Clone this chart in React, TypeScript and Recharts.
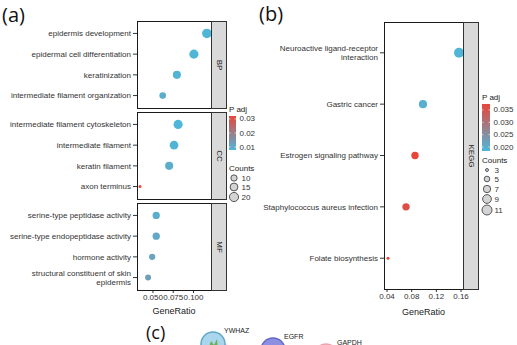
import React from "react";
import { ScatterChart, Scatter, XAxis, YAxis, ReferenceLine } from "recharts";

// ---- (a) GO enrichment, three facets ----
const bpTerms = [
  "epidermis development",
  "epidermal cell differentiation",
  "keratinization",
  "intermediate filament organization",
];
const bpRatio = [0.1165, 0.1005, 0.0795, 0.062];
const bpCount = [22, 20, 16, 11];
const bpPadj = [0.0079, 0.0079, 0.0085, 0.0098];

const ccTerms = [
  "intermediate filament cytoskeleton",
  "intermediate filament",
  "keratin filament",
  "axon terminus",
];
const ccRatio = [0.081, 0.076, 0.07, 0.034];
const ccCount = [20, 18, 16, 3];
const ccPadj = [0.0079, 0.0085, 0.0098, 0.0321];

const mfTerms = [
  "serine-type peptidase activity",
  "serine-type endopeptidase activity",
  "hormone activity",
  "structural constituent of skin epidermis",
];
const mfRatio = [0.054, 0.054, 0.049, 0.044];
const mfCount = [13, 13, 10, 9];
const mfPadj = [0.0098, 0.011, 0.012, 0.013];

const goTicks = [0.05, 0.075, 0.1];
const goPadjTicks = [0.03, 0.02, 0.01];
const goCountKeys = [10, 15, 20];

// ---- (b) KEGG enrichment ----
const keggTerms = [
  "Neuroactive ligand-receptor interaction",
  "Gastric cancer",
  "Estrogen signaling pathway",
  "Staphylococcus aureus infection",
  "Folate biosynthesis",
];
const keggRatio = [0.1567, 0.0983, 0.0854, 0.0708, 0.0416];
const keggCount = [11, 8, 7, 7, 3];
const keggPadj = [0.0184, 0.0195, 0.0374, 0.036, 0.0374];

const keggTicks = [0.04, 0.08, 0.12, 0.16];
const keggPadjTicks = [0.035, 0.03, 0.025, 0.02];
const keggCountKeys = [3, 5, 7, 9, 11];

// ---- (c) network fragment (layout units) ----
const nodeNames = ["YWHAZ", "EGFR", "GAPDH"];
const nodeX = [33, 93, 146];
const nodeY = [24, 30, 36];

const FONT = '"Liberation Sans", Arial, Helvetica, sans-serif';
const LOW = [79, 182, 216];
const HIGH = [232, 70, 58];

const goP = [Math.min(...bpPadj, ...ccPadj, ...mfPadj), Math.max(...bpPadj, ...ccPadj, ...mfPadj)];
const goC = [Math.min(...bpCount, ...ccCount, ...mfCount), Math.max(...bpCount, ...ccCount, ...mfCount)];
const keggP = [Math.min(...keggPadj), Math.max(...keggPadj)];
const keggC = [Math.min(...keggCount), Math.max(...keggCount)];

function padjColor(p: number, [lo, hi]: number[]) {
  const t = Math.max(0, Math.min(1, (p - lo) / (hi - lo)));
  const c = LOW.map((l, i) => Math.round(l + t * (HIGH[i] - l)));
  return `rgb(${c[0]},${c[1]},${c[2]})`;
}

function radius(c: number, [lo, hi]: number[], rmin: number, rmax: number) {
  const t = (c - lo) / (hi - lo);
  return Math.sqrt(rmin * rmin + t * (rmax * rmax - rmin * rmin));
}

function wrap(text: string, max = 34) {
  const lines: string[] = [];
  let cur = "";
  for (const w of text.split(" ")) {
    if (cur && (cur + " " + w).length > max) {
      lines.push(cur);
      cur = w;
    } else cur = cur ? cur + " " + w : w;
  }
  lines.push(cur);
  return lines;
}

function TermTick(props: any) {
  const { x, y, payload, labels } = props;
  const lines = wrap(labels[payload.value - 1] ?? "");
  const lh = 9;
  return (
    <text x={x} y={y} textAnchor="end" fontSize={8} fill="#333" fontFamily={FONT}>
      {lines.map((l, i) => (
        <tspan key={i} x={x} dy={i === 0 ? 2.8 - ((lines.length - 1) * lh) / 2 : lh}>
          {l}
        </tspan>
      ))}
    </text>
  );
}

interface DotPlotProps {
  terms: string[];
  ratio: number[];
  count: number[];
  padj: number[];
  pRange: number[];
  cRange: number[];
  rmax: number;
  domain: number[];
  ticks: number[];
  digits: number;
  left: number;
  top: number;
  width: number;
  plotHeight: number;
  labelWidth: number;
  showX: boolean;
  axisHeight: number;
  labelOffset: number;
}

function DotPlot(p: DotPlotProps) {
  const rows = p.terms.map((t, i) => ({
    term: t,
    y: i + 1,
    ratio: p.ratio[i],
    count: p.count[i],
    padj: p.padj[i],
  }));
  const n = p.terms.length;
  return (
    <div style={{ position: "absolute", left: p.left, top: p.top }}>
      <ScatterChart
        width={p.width + 12}
        height={p.plotHeight + (p.showX ? p.axisHeight : 0)}
        margin={{ top: 0, right: 13, bottom: 0, left: 0 }}
      >
        <XAxis
          type="number"
          dataKey="ratio"
          domain={p.domain}
          allowDataOverflow
          hide={!p.showX}
          height={p.axisHeight}
          ticks={p.ticks}
          interval={0}
          tickFormatter={(v: number) => v.toFixed(p.digits)}
          tick={{ fontSize: 8, fill: "#333", fontFamily: FONT }}
          tickSize={3}
          tickMargin={1}
          axisLine={false}
          tickLine={{ stroke: "#333" }}
          label={{ value: "GeneRatio", position: "insideBottom", offset: p.labelOffset, fontSize: 9, fill: "#1a1a1a", fontFamily: FONT }}
        />
        <YAxis
          type="number"
          dataKey="y"
          domain={[0.4, n + 0.6]}
          allowDataOverflow
          reversed
          ticks={rows.map((r) => r.y)}
          interval={0}
          width={p.labelWidth}
          tickSize={4}
          tickMargin={2}
          axisLine={false}
          tickLine={{ stroke: "#333" }}
          tick={<TermTick labels={p.terms} />}
        />
        <Scatter
          data={rows}
          isAnimationActive={false}
          shape={(s: any) => (
            <circle
              cx={s.cx}
              cy={s.cy}
              r={radius(s.payload.count, p.cRange, 1.5, p.rmax)}
              fill={padjColor(s.payload.padj, p.pRange)}
            />
          )}
        />
      </ScatterChart>
    </div>
  );
}

function Strip({ x, y, h, text }: { x: number; y: number; h: number; text: string }) {
  return (
    <g>
      <rect x={x} y={y} width={15} height={h} fill="#d9d9d9" stroke="#333" strokeWidth={1} />
      <text
        x={x + 7.5}
        y={y + h / 2}
        transform={`rotate(90 ${x + 7.5} ${y + h / 2})`}
        textAnchor="middle"
        dominantBaseline="central"
        fontSize={8}
        fill="#1a1a1a"
        fontFamily={FONT}
      >
        {text}
      </text>
    </g>
  );
}

function Legend(props: {
  x: number;
  y: number;
  barW: number;
  barH: number;
  id: string;
  pRange: number[];
  pTicks: number[];
  digits: number;
  counts: number[];
  cRange: number[];
  rmax: number;
  countTop: number;
  countGap: number[];
}) {
  const { x, y, barW, barH, pRange } = props;
  const py = (v: number) => y + barH - ((v - pRange[0]) / (pRange[1] - pRange[0])) * barH;
  let cy = props.countTop + 10;
  return (
    <g fontFamily={FONT} fontSize={8} fill="#1a1a1a">
      <defs>
        <linearGradient id={props.id} x1="0" y1="0" x2="0" y2="1">
          <stop offset="0" stopColor={padjColor(pRange[1], pRange)} />
          <stop offset="1" stopColor={padjColor(pRange[0], pRange)} />
        </linearGradient>
      </defs>
      <text x={x} y={y - 4}>P adj</text>
      <rect x={x} y={y} width={barW} height={barH} fill={`url(#${props.id})`} />
      {props.pTicks.map((t) => (
        <g key={t}>
          <line x1={x} x2={x + 1.5} y1={py(t)} y2={py(t)} stroke="#fff" strokeWidth={0.6} />
          <line x1={x + barW - 1.5} x2={x + barW} y1={py(t)} y2={py(t)} stroke="#fff" strokeWidth={0.6} />
          <text x={x + barW + 3.5} y={py(t)} dominantBaseline="central" fill="#333">
            {t.toFixed(props.digits)}
          </text>
        </g>
      ))}
      <text x={x} y={props.countTop + 3}>Counts</text>
      {props.counts.map((c, i) => {
        const r = radius(c, props.cRange, 1.5, props.rmax);
        const yy = cy;
        cy += props.countGap[i] ?? 0;
        return (
          <g key={c}>
            <circle cx={x + 5} cy={yy} r={r} fill="#d4d4d4" stroke="#333" strokeWidth={0.8} />
            <text x={x + 12.5} y={yy} dominantBaseline="central" fill="#333">
              {c}
            </text>
          </g>
        );
      })}
    </g>
  );
}

function Network() {
  const nodes = nodeNames.map((name, i) => ({ name, x: nodeX[i], y: nodeY[i] }));
  const fills = ["#a9d6ec", "#8d90e2", "#f6c9cf"];
  const strokes = ["#5fa6c8", "#6468c9", "#e8a3ad"];
  return (
    <div style={{ position: "absolute", left: 180, top: 320 }}>
      <ScatterChart width={190} height={60} margin={{ top: 0, right: 0, bottom: 0, left: 0 }}>
        <XAxis type="number" dataKey="x" domain={[0, 190]} hide />
        <YAxis type="number" dataKey="y" domain={[0, 60]} reversed hide />
        <ReferenceLine segment={[{ x: nodeX[0], y: nodeY[0] }, { x: nodeX[1], y: nodeY[1] }]} stroke="#e47bd2" strokeWidth={1.2} />
        <ReferenceLine segment={[{ x: nodeX[0], y: nodeY[0] + 2 }, { x: nodeX[1], y: nodeY[1] + 2 }]} stroke="#d8d24c" strokeWidth={1} />
        <ReferenceLine segment={[{ x: nodeX[1], y: nodeY[1] }, { x: nodeX[2], y: nodeY[2] }]} stroke="#e47bd2" strokeWidth={1} />
        <Scatter
          data={nodes}
          isAnimationActive={false}
          shape={(s: any) => {
            const i = nodeNames.indexOf(s.payload.name);
            return (
              <g>
                <circle cx={s.cx} cy={s.cy} r={12} fill={fills[i]} stroke={strokes[i]} strokeWidth={1.5} />
                {i === 0 && <path d={`M${s.cx - 5} ${s.cy + 6} l3 -9 l3 4 l3 -6 l1 11 z`} fill="#6fae5a" />}
                <text x={s.cx + 11} y={s.cy - 11} fontSize={7} fontFamily={FONT} fill="#222">
                  {s.payload.name}
                </text>
              </g>
            );
          }}
        />
      </ScatterChart>
    </div>
  );
}

export default function App() {
  const common = { left: 0, width: 212, plotHeight: 87, labelWidth: 137, axisHeight: 30, labelOffset: 6, digits: 3 };
  return (
    <div
      style={{
        position: "absolute",
        left: 0,
        top: 0,
        width: 517,
        height: 345,
        overflow: "hidden",
        background: "#fff",
        fontFamily: FONT,
      }}
    >
      <DotPlot {...common} terms={bpTerms} ratio={bpRatio} count={bpCount} padj={bpPadj} pRange={goP} cRange={goC} rmax={4.8} domain={[0.0303, 0.1216]} ticks={goTicks} top={21} showX={false} />
      <DotPlot {...common} terms={ccTerms} ratio={ccRatio} count={ccCount} padj={ccPadj} pRange={goP} cRange={goC} rmax={4.8} domain={[0.0303, 0.1216]} ticks={goTicks} top={112} showX={false} />
      <DotPlot {...common} terms={mfTerms} ratio={mfRatio} count={mfCount} padj={mfPadj} pRange={goP} cRange={goC} rmax={4.8} domain={[0.0303, 0.1216]} ticks={goTicks} top={203} showX />
      <DotPlot
        terms={keggTerms}
        ratio={keggRatio}
        count={keggCount}
        padj={keggPadj}
        pRange={keggP}
        cRange={keggC}
        rmax={5}
        domain={[0.0351, 0.1632]}
        ticks={keggTicks}
        digits={2}
        left={260}
        top={22}
        width={204}
        plotHeight={267}
        labelWidth={124}
        axisHeight={30}
        labelOffset={4}
        showX
      />
      <Network />
      <svg width={517} height={345} style={{ position: "absolute", left: 0, top: 0, pointerEvents: "none" }}>
        <g fill="none" stroke="#1a1a1a" strokeWidth={1}>
          <rect x={137.5} y={21.5} width={74} height={87} />
          <rect x={137.5} y={112.5} width={74} height={87} />
          <rect x={137.5} y={203.5} width={74} height={87} />
          <rect x={384.5} y={22.5} width={79} height={267} />
        </g>
        <Strip x={211.5} y={21.5} h={87} text="BP" />
        <Strip x={211.5} y={112.5} h={87} text="CC" />
        <Strip x={211.5} y={203.5} h={87} text="MF" />
        <Strip x={463.5} y={22.5} h={267} text="KEGG" />
        <Legend x={229} y={116} barW={7} barH={34} id="gA" pRange={goP} pTicks={goPadjTicks} digits={2} counts={goCountKeys} cRange={goC} rmax={4.8} countTop={168} countGap={[9, 10]} />
        <Legend x={482} y={104} barW={8} barH={47} id="gB" pRange={keggP} pTicks={keggPadjTicks} digits={3} counts={keggCountKeys} cRange={keggC} rmax={5} countTop={160} countGap={[9, 10, 10, 11]} />
        <g fontFamily='"Open Sans", "Noto Sans", sans-serif' fill="#111">
          <text x={2} y={22} fontSize={20}>(a)</text>
          <text x={259} y={21} fontSize={20}>(b)</text>
          <text x={146} y={339} fontSize={18}>(c)</text>
        </g>
      </svg>
    </div>
  );
}
